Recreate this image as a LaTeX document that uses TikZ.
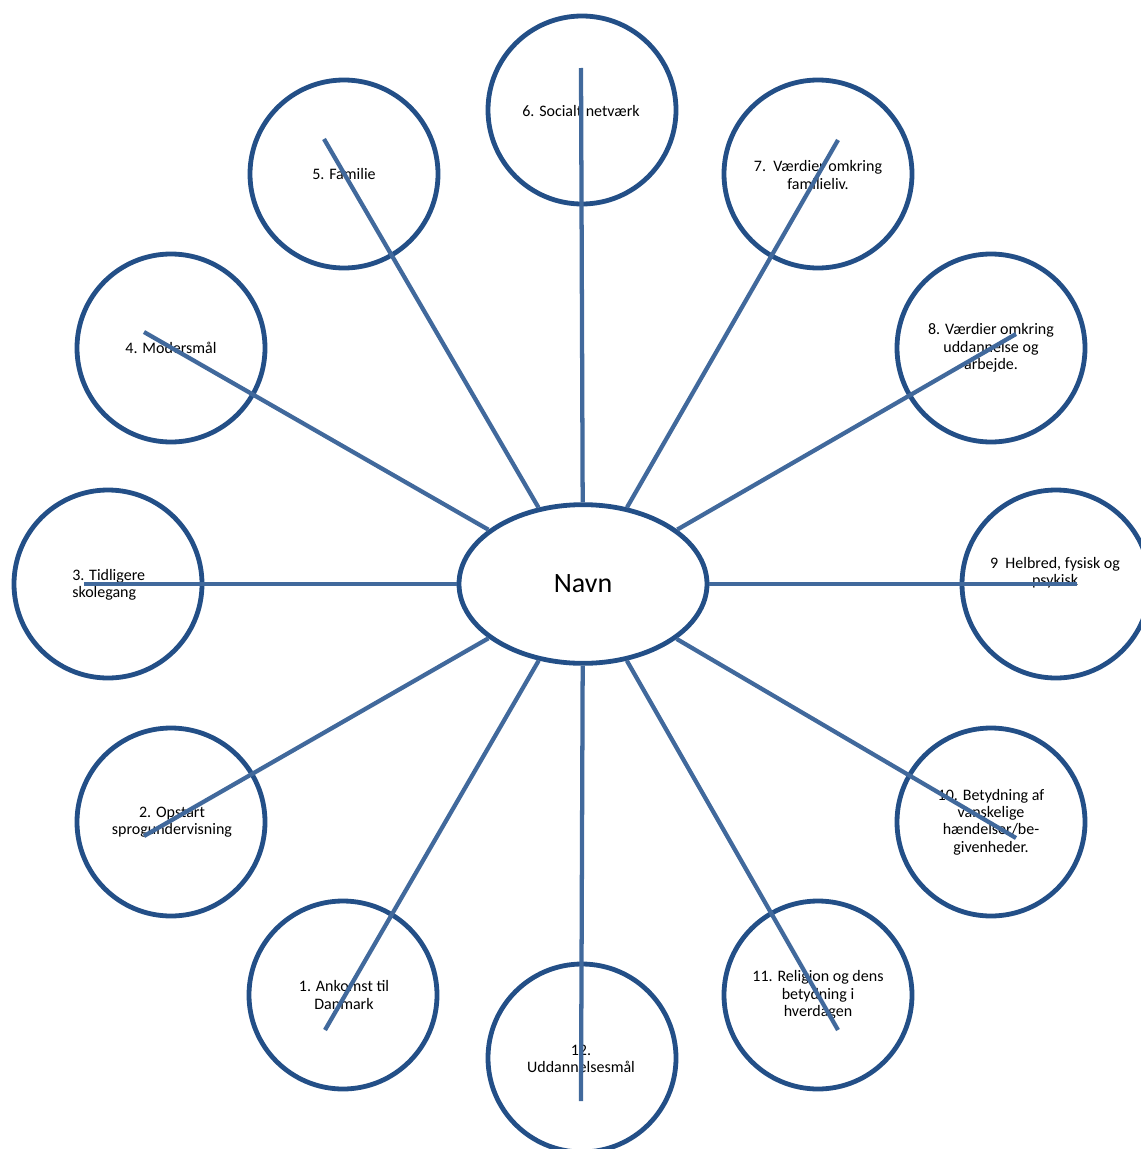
\documentclass[tikz,border=0pt]{standalone}
\usepackage{fontspec}
\setmainfont{Carlito}
\usetikzlibrary{shapes.geometric}
\definecolor{ring}{HTML}{234F87}
\definecolor{spokec}{HTML}{41699C}
\begin{document}
\begin{tikzpicture}[x=0.75pt,y=-0.75pt,
  bubble/.style={circle,draw=ring,line width=3.6pt,fill=white,minimum size=141pt,inner sep=0pt},
  hub/.style={ellipse,draw=ring,line width=3.6pt,fill=white,minimum width=186pt,minimum height=119pt,inner sep=0pt,font=\fontsize{21}{25}\selectfont},
  lbl/.style={align=center,font=\fontsize{12}{13}\selectfont,inner sep=0pt},
  spoke/.style={draw=spokec,line width=3.2pt}]
\useasboundingbox (0,0) rectangle (1140,1149);
% circles
\node[bubble] (c1) at (343,995) {};
\node[bubble] (c2) at (171,822) {};
\node[bubble] (c3) at (108,584) {};
\node[bubble] (c4) at (171,348) {};
\node[bubble] (c5) at (344,174) {};
\node[bubble] (c6) at (582,110) {};
\node[bubble] (c7) at (818,174) {};
\node[bubble] (c8) at (991,348) {};
\node[bubble] (c9) at (1056,584) {};
\node[bubble] (c10) at (991,822) {};
\node[bubble] (c11) at (818,995) {};
\node[bubble] (c12) at (582,1058) {};
% labels
\node[lbl] (t1) at (344,995) {1. Ankomst til\\Danmark};
\node[lbl] (t2) at (172,822) {2. Opstart\\sprogundervisning};
\node[lbl,align=left,anchor=west] (t3) at (72,585) {3. Tidligere\\skolegang};
\node[lbl] (t4) at (171,348) {4. Modersmål};
\node[lbl] (t5) at (344,174) {5. Familie};
\node[lbl] (t6) at (581,111) {6. Socialt netværk};
\node[lbl] (t7) at (818,175) {7.\ \ Værdier omkring\\familieliv.};
\node[lbl] (t8) at (991,348) {8. Værdier omkring\\uddannelse og\\arbejde.};
\node[lbl] (t9) at (1055,573) {9\ \ Helbred, fysisk og\\psykisk};
\node[lbl] (t10) at (991,822) {10. Betydning af\\vanskelige\\hændelser/be-\\givenheder.};
\node[lbl] (t11) at (818,995) {11. Religion og dens\\betydning i\\hverdagen};
\node[lbl] (t12) at (581,1059) {12.\\Uddannelsesmål};
% hub
\node[hub] (navn) at (583,584) {Navn};
% spoke ends
\coordinate (e1) at (325,1030);
\coordinate (e2) at (144,836);
\coordinate (e3) at (84,584);
\coordinate (e4) at (144,332);
\coordinate (e5) at (324,139);
\coordinate (e6) at (581,68);
\coordinate (e7) at (838,140);
\coordinate (e8) at (1016,334);
\coordinate (e9) at (1077,584);
\coordinate (e10) at (1016,838);
\coordinate (e11) at (838,1030);
\coordinate (e12) at (581,1101);
\foreach \i in {1,...,12} {\draw[spoke] (navn) -- (e\i);}
\end{tikzpicture}
\end{document}
